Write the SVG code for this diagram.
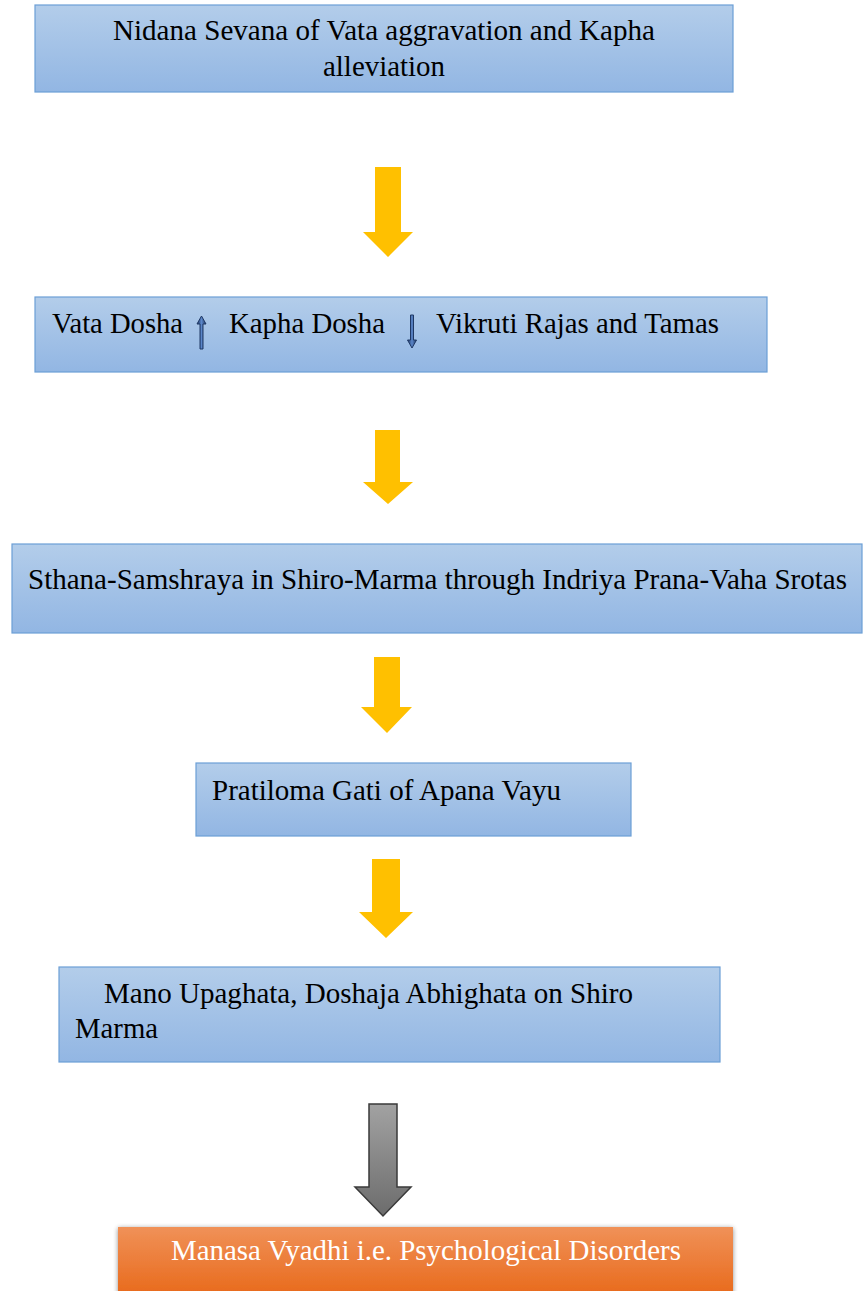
<svg xmlns="http://www.w3.org/2000/svg" width="863" height="1291" viewBox="0 0 863 1291">
<defs>
<linearGradient id="blue" x1="0" y1="0" x2="0" y2="1">
<stop offset="0" stop-color="#b3cdea"/>
<stop offset="1" stop-color="#92b6e3"/>
</linearGradient>
<linearGradient id="orange" x1="0" y1="0" x2="0" y2="1">
<stop offset="0" stop-color="#f09158"/>
<stop offset="1" stop-color="#e8691a"/>
</linearGradient>
<linearGradient id="gray" x1="0" y1="0" x2="0" y2="1">
<stop offset="0" stop-color="#a2a2a2"/>
<stop offset="1" stop-color="#6c6c6c"/>
</linearGradient>
<linearGradient id="navy" x1="0" y1="0" x2="1" y2="0">
<stop offset="0" stop-color="#1f3864"/>
<stop offset="0.5" stop-color="#5b86c9"/>
<stop offset="1" stop-color="#1f3864"/>
</linearGradient>
<filter id="shadow" x="-5%" y="-20%" width="110%" height="140%">
<feGaussianBlur in="SourceAlpha" stdDeviation="2.5"/>
<feOffset dx="0" dy="1" result="b"/>
<feComponentTransfer><feFuncA type="linear" slope="0.45"/></feComponentTransfer>
<feMerge><feMergeNode/><feMergeNode in="SourceGraphic"/></feMerge>
</filter>
</defs>
<style>
.box{fill:url(#blue);stroke:#6c9fd6;stroke-width:1.2}
.t{font-family:"Liberation Serif","Times New Roman",serif;font-size:30px;fill:#000}
.w{fill:#ffffff}
.ya{fill:#ffc000}
.ga{fill:url(#gray);stroke:#3a3a3a;stroke-width:1.5}
.sm{fill:url(#navy);stroke:#1f3864;stroke-width:1}
</style>
<g id="n1">
<rect class="box" x="35" y="5" width="698" height="87"/>
<text class="t" x="113" y="40" textLength="542" lengthAdjust="spacingAndGlyphs">Nidana Sevana of Vata aggravation and Kapha</text>
<text class="t" x="323" y="76" textLength="122" lengthAdjust="spacingAndGlyphs">alleviation</text>
</g>
<g id="n2">
<rect class="box" x="35" y="297" width="732" height="75"/>
<text class="t" x="52" y="333" textLength="131" lengthAdjust="spacingAndGlyphs">Vata Dosha</text>
<path class="sm" d="M201.5,316 L206,324 L203,324 L203,349 L200,349 L200,324 L197,324 Z"/>
<text class="t" x="229" y="333" textLength="156" lengthAdjust="spacingAndGlyphs">Kapha Dosha</text>
<path class="sm" d="M410.5,315 L413.5,315 L413.5,340 L416.5,340 L412,348 L407.5,340 L410.5,340 Z"/>
<text class="t" x="436" y="333" textLength="283" lengthAdjust="spacingAndGlyphs">Vikruti Rajas and Tamas</text>
</g>
<g id="n3">
<rect class="box" x="12" y="544" width="850" height="89"/>
<text class="t" x="28" y="589" textLength="819" lengthAdjust="spacingAndGlyphs">Sthana-Samshraya in Shiro-Marma through Indriya Prana-Vaha Srotas</text>
</g>
<g id="n4">
<rect class="box" x="196" y="763" width="435" height="73"/>
<text class="t" x="212" y="800" textLength="349" lengthAdjust="spacingAndGlyphs">Pratiloma Gati of Apana Vayu</text>
</g>
<g id="n5">
<rect class="box" x="59" y="967" width="661" height="95"/>
<text class="t" x="104" y="1003" textLength="529" lengthAdjust="spacingAndGlyphs">Mano Upaghata, Doshaja Abhighata on Shiro</text>
<text class="t" x="75" y="1038" textLength="83" lengthAdjust="spacingAndGlyphs">Marma</text>
</g>
<g id="n6">
<rect x="118" y="1227" width="615" height="70" fill="url(#orange)" filter="url(#shadow)"/>
<text class="t w" x="171" y="1260" textLength="510" lengthAdjust="spacingAndGlyphs">Manasa Vyadhi i.e. Psychological Disorders</text>
</g>
<g id="connectors">
<path class="ya" d="M375,167 L401,167 L401,232 L413,232 L388,257 L363,232 L375,232 Z"/>
<path class="ya" d="M375,430 L400,430 L400,482 L413,482 L388,504 L363,482 L375,482 Z"/>
<path class="ya" d="M374,657 L400,657 L400,707 L412,707 L387,733 L361,707 L374,707 Z"/>
<path class="ya" d="M372,859 L400,859 L400,912 L413,912 L386,938 L359,912 L372,912 Z"/>
<path class="ga" d="M369,1104 L397,1104 L397,1187 L411,1187 L383,1216 L355,1187 L369,1187 Z"/>
</g>
</svg>
